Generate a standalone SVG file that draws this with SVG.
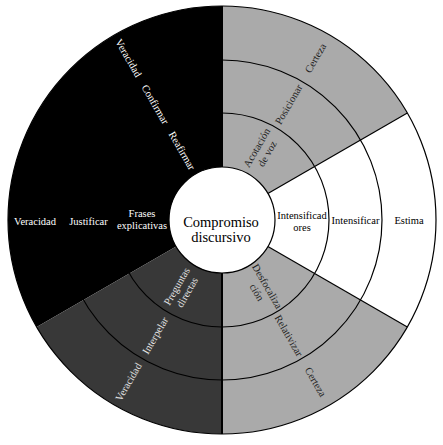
<svg xmlns="http://www.w3.org/2000/svg" width="443" height="445" viewBox="0 0 443 445">
<style>
.lbl{font-family:"Liberation Serif","Times New Roman",serif;font-size:10.5px;text-anchor:middle}
.w{fill:#ffffff}
.g{fill:#e2e2e2}
.d{fill:#1e1e1e}
.k{fill:#000000}
.ring{fill:none;stroke:#000;stroke-width:1.2}
.ctr{font-family:"Liberation Serif","Times New Roman",serif;font-size:14.5px;text-anchor:middle;fill:#000}
</style>
<rect width="443" height="445" fill="#ffffff"/>
<g id="sectors">
<path id="s-black" d="M222,220 L222,6 A214,214 0 0 0 36.67,327 Z" fill="#000000"/>
<path id="s-dark" d="M222,220 L36.67,327 A214,214 0 0 0 222,434 Z" fill="#383838"/>
<path id="s-lower" d="M222,220 L222,434 A214,214 0 0 0 407.33,327 Z" fill="#aaaaaa"/>
<path id="s-white" d="M222,220 L407.33,327 A214,214 0 0 0 407.33,113 Z" fill="#ffffff"/>
<path id="s-upper" d="M222,220 L407.33,113 A214,214 0 0 0 222,6 Z" fill="#aaaaaa"/>
</g>
<g id="connectors">
<circle class="ring" cx="222" cy="220" r="107"/>
<circle class="ring" cx="222" cy="220" r="160"/>
<circle class="ring" cx="222" cy="220" r="214"/>
<line x1="222" y1="167" x2="222" y2="6" stroke="#000" stroke-width="2"/>
<line x1="222" y1="273" x2="222" y2="434" stroke="#000" stroke-width="2"/>
<line x1="267.9" y1="193.5" x2="407.33" y2="113" stroke="#000" stroke-width="1.2"/>
<line x1="267.9" y1="246.5" x2="407.33" y2="327" stroke="#000" stroke-width="1.2"/>
</g>
<g id="center">
<circle cx="222" cy="220" r="53" fill="#ffffff" stroke="#000" stroke-width="1.2"/>
<text class="ctr" x="221" y="226.5">Compromiso</text>
<text class="ctr" x="221" y="241.5">discursivo</text>
</g>
<g id="black-labels">
<text class="lbl w" transform="translate(128.5,58) rotate(60)" y="3.5">Veracidad</text>
<text class="lbl w" transform="translate(155.25,104.4) rotate(60)" y="3.5">Confirmar</text>
<text class="lbl w" transform="translate(182,150.7) rotate(60)" y="3.5">Reafirmar</text>
<text class="lbl w" x="35" y="225">Veracidad</text>
<text class="lbl w" x="88.5" y="225">Justificar</text>
<text class="lbl w" x="142" y="216.5">Frases</text>
<text class="lbl w" x="142" y="229">explicativas</text>
</g>
<g id="dark-labels">
<text class="lbl g" transform="translate(128.5,382) rotate(-60)" y="3.5">Veracidad</text>
<text class="lbl g" transform="translate(155.25,335.6) rotate(-60)" y="3.5">Interpelar</text>
<text class="lbl g" transform="translate(182,289.3) rotate(-60)" y="-2.5">Preguntas</text>
<text class="lbl g" transform="translate(182,289.3) rotate(-60)" y="9.5">directas</text>
</g>
<g id="upper-labels">
<text class="lbl d" transform="translate(315.5,58) rotate(-60)" y="3.5">Certeza</text>
<text class="lbl d" transform="translate(288.75,104.4) rotate(-60)" y="3.5">Posicionar</text>
<text class="lbl d" transform="translate(262,150.7) rotate(-60)" y="-2.5">Acotación</text>
<text class="lbl d" transform="translate(262,150.7) rotate(-60)" y="9.5">de voz</text>
</g>
<g id="white-labels">
<text class="lbl k" x="302" y="218.5">Intensificad</text>
<text class="lbl k" x="302" y="230.5">ores</text>
<text class="lbl k" x="355.5" y="224">Intensificar</text>
<text class="lbl k" x="409" y="224">Estima</text>
</g>
<g id="lower-labels">
<text class="lbl d" transform="translate(315.5,382) rotate(60)" y="3.5">Certeza</text>
<text class="lbl d" transform="translate(288.75,335.6) rotate(60)" y="3.5">Relativizar</text>
<text class="lbl d" transform="translate(262,289.3) rotate(60)" y="-2.5">Desfocaliza</text>
<text class="lbl d" transform="translate(262,289.3) rotate(60)" y="9.5">ción</text>
</g>
</svg>
